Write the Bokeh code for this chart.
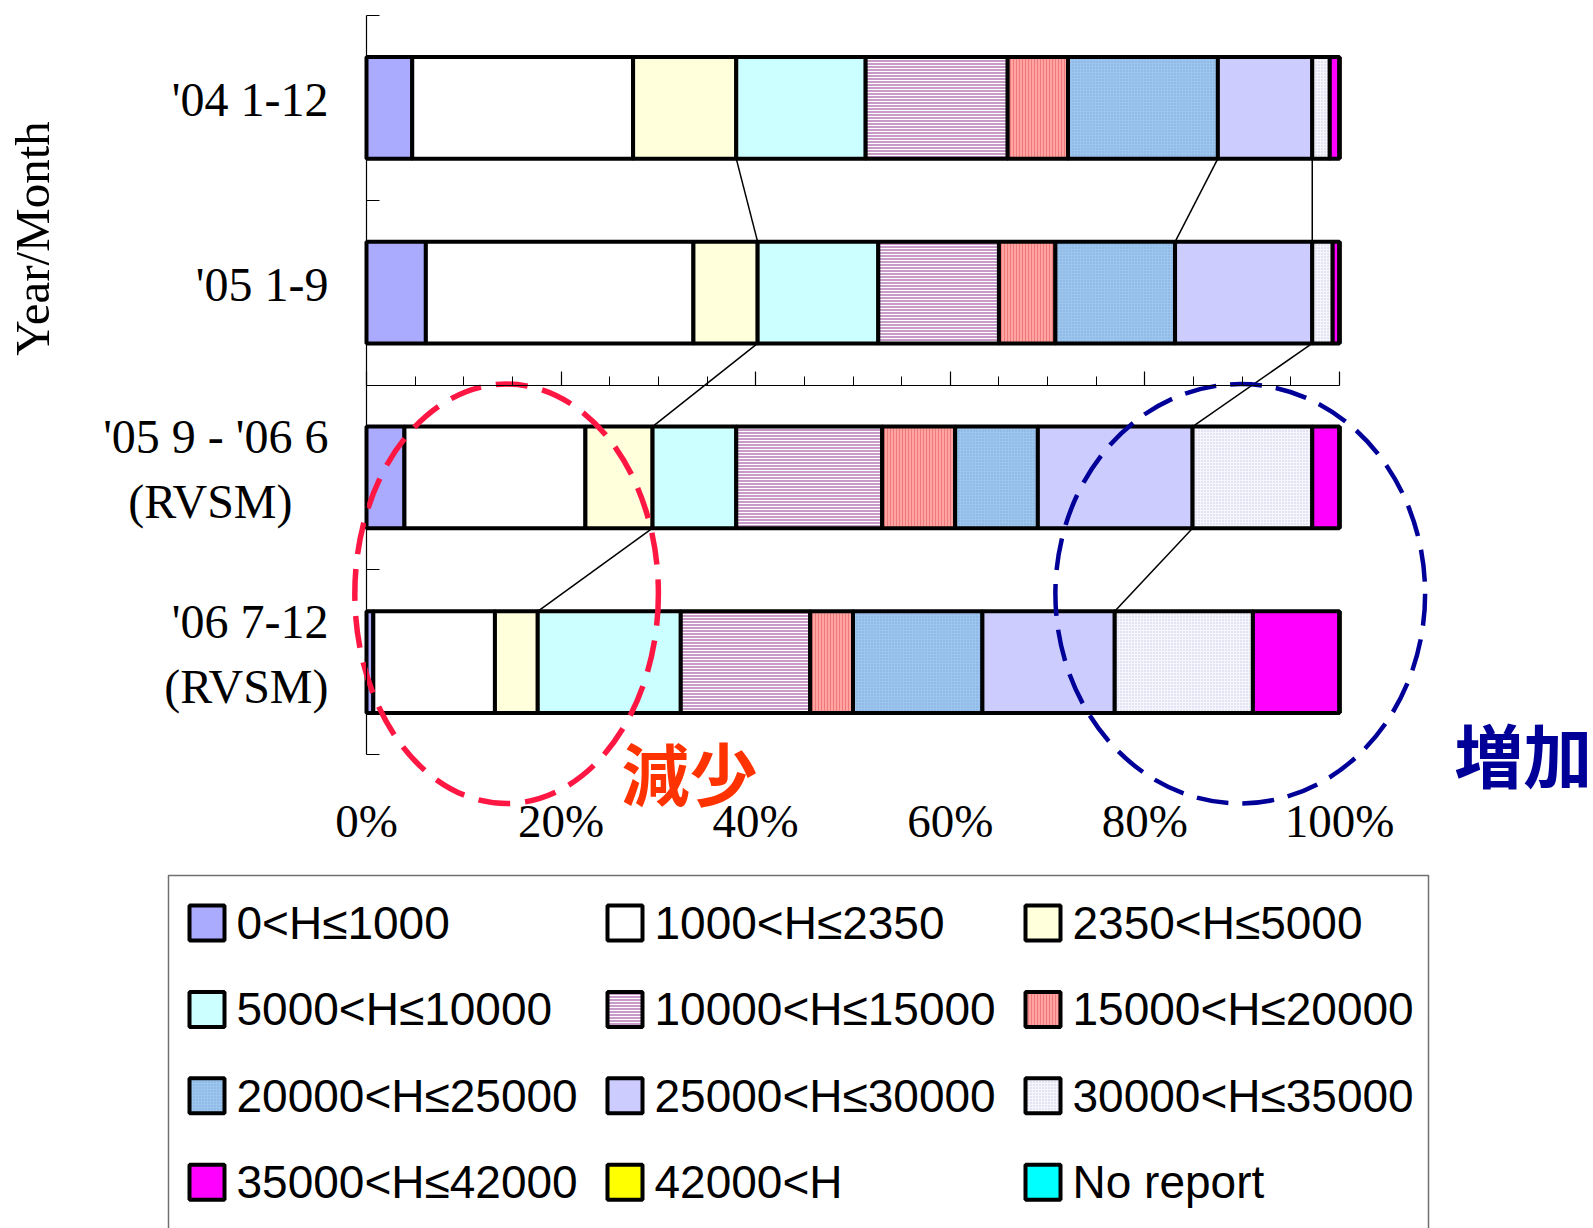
import numpy as np
from bokeh.plotting import figure
from bokeh.models import Range1d, LinearAxis, FixedTicker, PrintfTickFormatter, Label
from bokeh.layouts import column
from bokeh.embed import file_html
from bokeh.resources import INLINE
from bokeh.core.properties import value

# ---------------- data ----------------
periods = ["'04 1-12", "'05 1-9", "'05 9 - '06 6\n(RVSM)\u00a0\u00a0\u00a0", "'06 7-12\n(RVSM)"]
bands = ["0<H≤1000", "1000<H≤2350", "2350<H≤5000",
         "5000<H≤10000", "10000<H≤15000", "15000<H≤20000",
         "20000<H≤25000", "25000<H≤30000", "30000<H≤35000",
         "35000<H≤42000", "42000<H", "No report"]
share_04_1_12 = [4.7, 22.7, 10.6, 13.3, 14.6, 6.2, 15.4, 9.7, 1.8, 1.0, 0.0, 0.0]
share_05_1_9 = [6.1, 27.5, 6.6, 12.4, 12.4, 5.8, 12.3, 14.1, 2.1, 0.7, 0.0, 0.0]
share_05_9_06_6 = [3.9, 18.6, 6.9, 8.6, 15.0, 7.5, 8.5, 15.9, 12.3, 2.8, 0.0, 0.0]
share_06_7_12 = [0.7, 12.5, 4.4, 14.7, 13.3, 4.4, 13.3, 13.6, 14.2, 8.9, 0.0, 0.0]
pct_ticks = [0, 20, 40, 60, 80, 100]
pct_minor = list(range(5, 100, 5))
# which cumulative boundaries get connector lines between consecutive bars
connectors = [[3, 7, 8], [3, 8], [3, 8]]

# ---------------- styles ----------------
band_fill = ["#aaaaff", "#ffffff", "#ffffdb", "#ccffff", "#c89ac8", "#ffa3a3",
             "#9cc6ee", "#ccccff", "#f6f6fd", "#ff00ff", "#ffff00", "#00ffff"]
band_hatch = [None, None, None, None, "horizontal_line", "vertical_line",
              "dot", None, "dot", None, None, None]
band_hatch_color = ["#9999ee", None, None, None, "#ffffff", "#ee7a7a",
                    "#7ea8d8", None, "#c4c4e6", None, None, None]

W, H1, H_TOTAL = 1593, 870, 1228
AX_L, AX_T = 366, 15          # pixel position of 0 % and of the top of the axis
PX_PER_PCT = 9.73
PX_PER_ROW = 184.75
SERIF = "Liberation Serif"

def px_x(px):
    return (px - AX_L) / PX_PER_PCT

def px_y(py):
    return (py - AX_T) / PX_PER_ROW

p = figure(width=W, height=H1,
           x_range=Range1d(px_x(0), px_x(W)), y_range=Range1d(px_y(H1), px_y(0)),
           x_axis_type=None, y_axis_type=None, output_backend="svg", toolbar_location=None,
           min_border=0)
p.outline_line_color = None

shares = np.array([share_04_1_12, share_05_1_9, share_05_9_06_6, share_06_7_12])
ys = np.arange(len(periods)) + 0.5
right = np.cumsum(shares, axis=1)
left = right - shares
BAR_H = 0.55

for k, band in enumerate(bands):
    kw = dict(fill_color=band_fill[k], line_color="black", line_width=4)
    if band_hatch[k]:
        kw.update(hatch_pattern=band_hatch[k], hatch_color=band_hatch_color[k],
                  hatch_scale=3, hatch_weight=1)
    p.hbar(y=ys, left=left[:, k], right=right[:, k], height=BAR_H, **kw)

# connector lines
x0s, y0s, x1s, y1s = [], [], [], []
for i, ks in enumerate(connectors):
    for k in ks:
        x0s.append(left[i, k]); y0s.append(ys[i] + BAR_H / 2)
        x1s.append(left[i + 1, k]); y1s.append(ys[i + 1] - BAR_H / 2)
p.segment(x0=x0s, y0=y0s, x1=x1s, y1=y1s, line_color="black", line_width=1.5)

# annotation ellipses
p.ellipse(x=[14.4], y=[3.13], width=31.2, height=2.27, fill_color=None,
          line_color="#ff1744", line_width=5.5, line_dash="32 15")
p.ellipse(x=[89.8], y=[3.13], width=38.0, height=2.27, fill_color=None,
          line_color="#000099", line_width=4.5, line_dash="32 14")

p.text(x=[33.2], y=[4.09], text=["減少"], text_font=value("Noto Sans CJK JP"),
       text_font_style="bold", text_font_size="68px", text_color="#ff3300",
       text_align="center", text_baseline="middle")
p.text(x=[111.8], y=[3.99], text=["増加"], text_font=value("Noto Sans CJK JP"),
       text_font_style="bold", text_font_size="69px", text_color="#000099",
       text_align="left", text_baseline="middle")

p.add_layout(Label(x=px_x(32), y=px_y(238), text="Year/Month", angle=np.pi / 2,
                   text_align="center", text_baseline="middle",
                   text_font=SERIF, text_font_size="49px", text_color="black"))

# y axis: labels near bar centres, tick marks (minor) at row boundaries
label_pos = [round(float(y) - 0.045, 3) for y in ys]
ax_rows = LinearAxis(fixed_location=0,
                     ticker=FixedTicker(ticks=label_pos, minor_ticks=list(range(len(periods) + 1))),
                     major_label_overrides={y: lab for y, lab in zip(label_pos, periods)},
                     bounds=(0, len(periods)),
                     axis_line_color="black", axis_line_width=1.2,
                     major_tick_line_color=None, major_tick_in=0, major_tick_out=0,
                     minor_tick_in=13, minor_tick_out=0, minor_tick_line_color="black",
                     minor_tick_line_width=1.2,
                     major_label_standoff=38, major_label_text_font=SERIF,
                     major_label_text_font_size="48px", major_label_text_color="black",
                     major_label_text_line_height=1.22)
# x axis: line with ticks through the middle of the chart, labels below the bars
ax_pct = LinearAxis(fixed_location=len(periods) / 2,
                    ticker=FixedTicker(ticks=pct_ticks, minor_ticks=pct_minor),
                    formatter=PrintfTickFormatter(format="%d%%"),
                    bounds=(0, 100), major_tick_in=14, major_tick_out=0,
                    minor_tick_in=9, minor_tick_out=0,
                    axis_line_color="black", axis_line_width=1.2, major_tick_line_width=1.2,
                    minor_tick_line_width=1.0,
                    major_label_standoff=int(len(periods) / 2 * PX_PER_ROW) + 41,
                    major_label_text_font=SERIF,
                    major_label_text_font_size="47px", major_label_text_color="black")
p.add_layout(ax_rows, "left")
p.add_layout(ax_pct, "below")

# ---------------- legend panel ----------------
H2 = H_TOTAL - H1
q = figure(width=W, height=H2, x_range=Range1d(0, W), y_range=Range1d(H2, 0),
           x_axis_type=None, y_axis_type=None, output_backend="svg", toolbar_location=None,
           min_border=0)
q.outline_line_color = None
q.quad(left=[168], right=[1428], top=[5], bottom=[H2 + 30], fill_color=None,
       line_color="#707070", line_width=1.5)

NCOL = 3
COL_X0, COL_DX = 189, 418
ROW_Y0, ROW_DY = 52.5, 86.4
SW = 35
for k, band in enumerate(bands):
    r, c = divmod(k, NCOL)
    sx = COL_X0 + c * COL_DX
    sy = ROW_Y0 + r * ROW_DY
    kw = dict(fill_color=band_fill[k], line_color="black", line_width=4)
    if band_hatch[k]:
        kw.update(hatch_pattern=band_hatch[k], hatch_color=band_hatch_color[k],
                  hatch_scale=3, hatch_weight=1)
    q.rect(x=[sx + SW / 2], y=[sy], width=SW, height=SW, **kw)
    q.text(x=[sx + 47], y=[sy], text=[band], text_font=value("Liberation Sans"),
           text_font_size="46px", text_color="black", text_baseline="middle")

layout = column(p, q, spacing=0)
open("out.html", "w").write(file_html(layout, INLINE))
